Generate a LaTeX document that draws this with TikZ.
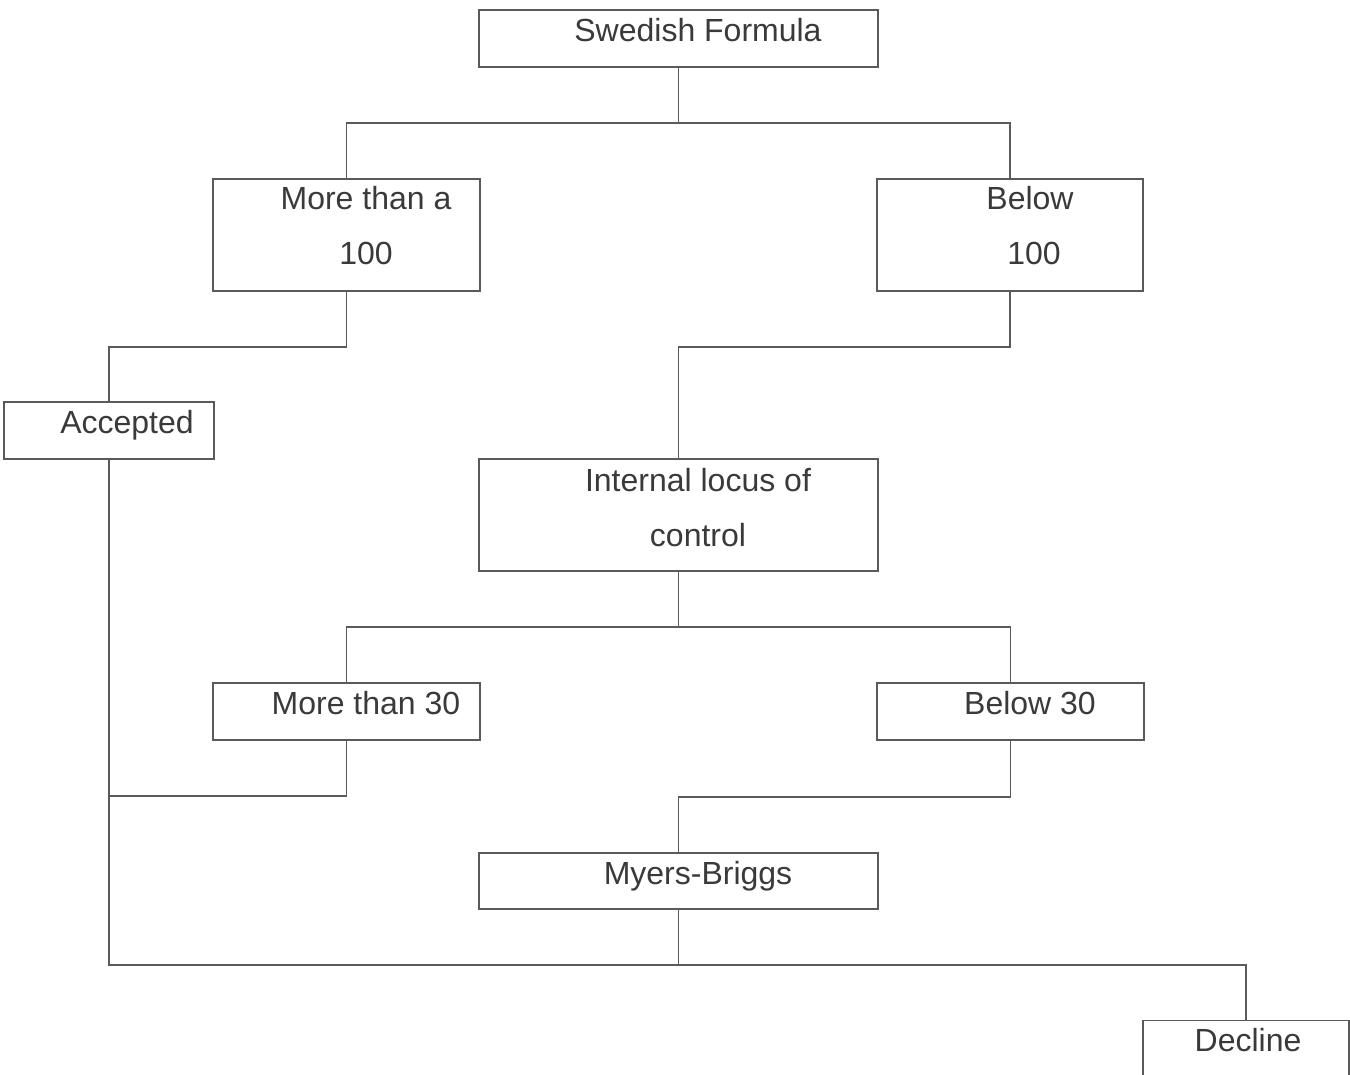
\documentclass[tikz,border=0pt]{standalone}
\usepackage{fontspec}
\setmainfont{Liberation Sans}
\begin{document}
\begin{tikzpicture}[x=1pt,y=-1pt,
  box/.style={draw=linegray,line width=1.3pt,fill=white,inner sep=0pt,rectangle},
  lbl/.style={text=textgray,inner sep=0pt,anchor=base,font=\fontsize{32}{38}\selectfont},
  conn/.style={draw=linegray,line width=1.3pt}]
\definecolor{linegray}{HTML}{5A5A5A}
\definecolor{textgray}{HTML}{3A3A3A}
\useasboundingbox (0,0) rectangle (1350,1075);
\clip (0,0) rectangle (1350,1075);
\fill[white] (0,0) rectangle (1350,1075);
% boxes
\node[box,minimum width=399pt,minimum height=57pt] (sw) at (678.5,38.5) {};
\node[box,minimum width=267pt,minimum height=112pt] (mta) at (346.5,235) {};
\node[box,minimum width=266pt,minimum height=112pt] (b100) at (1010,235) {};
\node[box,minimum width=210pt,minimum height=57pt] (acc) at (109,430.5) {};
\node[box,minimum width=399pt,minimum height=112pt] (ilc) at (678.5,515) {};
\node[box,minimum width=267pt,minimum height=57pt] (m30) at (346.5,711.5) {};
\node[box,minimum width=267pt,minimum height=57pt] (b30) at (1010.5,711.5) {};
\node[box,minimum width=399pt,minimum height=56pt] (mb) at (678.5,881) {};
\node[box,minimum width=206pt,minimum height=100pt,anchor=north] (dec) at (1246,1020) {};
% labels
\node[lbl] (tsw) at (698,42) {Swedish Formula};
\node[lbl] (tmta1) at (366,210) {More than a};
\node[lbl] (tmta2) at (366,265) {100};
\node[lbl] (tb1) at (1030,210) {Below};
\node[lbl] (tb2) at (1034,265) {100};
\node[lbl] (tacc) at (127,433) {Accepted};
\node[lbl] (tilc1) at (698,491) {Internal locus of};
\node[lbl] (tilc2) at (698,546) {control};
\node[lbl] (tm30) at (366,714) {More than 30};
\node[lbl] (tb30) at (1030,714) {Below 30};
\node[lbl] (tmb) at (698,884) {Myers-Briggs};
\node[lbl] (tdec) at (1248,1051) {Decline};
% junctions
\coordinate (j1) at (678.5,123);
\coordinate (j2) at (346.5,347);
\coordinate (j3) at (1010,347);
\coordinate (j4) at (678.5,627);
\coordinate (j6) at (109,796);
\coordinate (j7) at (1010.5,797);
\coordinate (j8) at (678.5,965);
% connectors
\draw[conn] (sw.south) -- (j1);
\draw[conn] (mta.north) |- (j1) -| (b100.north);
\draw[conn] (mta.south) -- (j2) -| (acc.north);
\draw[conn] (b100.south) -- (j3) -| (ilc.north);
\draw[conn] (ilc.south) -- (j4);
\draw[conn] (m30.north) |- (j4) -| (b30.north);
\draw[conn] (m30.south) |- (j6);
\draw[conn] (b30.south) -- (j7) -| (mb.north);
\draw[conn] (mb.south) -- (j8);
\draw[conn] (acc.south) |- (j8) -| (dec.north);
\end{tikzpicture}
\end{document}
